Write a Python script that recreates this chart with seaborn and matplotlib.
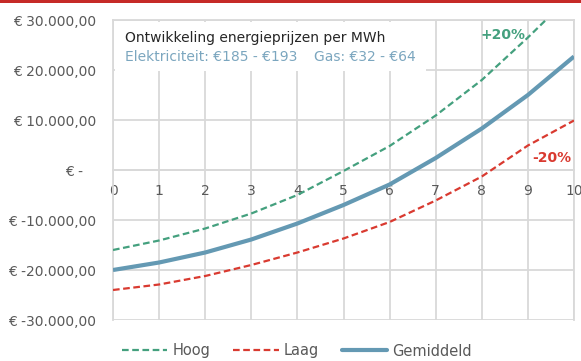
import matplotlib
matplotlib.use("Agg")
import matplotlib.pyplot as plt
import matplotlib.patches as mpatches
from matplotlib.lines import Line2D
import seaborn as sns
import pandas as pd

# Jaren na investering
jaren = list(range(0, 11))

# Cumulatief resultaat (EUR) per scenario
hoog = [-16000, -14100, -11700, -8700, -5000, -200, 4800, 10900, 18000, 26500, 35500]
laag = [-24000, -22900, -21200, -19000, -16500, -13700, -10400, -6100, -1300, 4900, 9900]
gemiddeld = [-20000, -18500, -16500, -13900, -10700, -7000, -2900, 2400, 8300, 15000, 22700]

y_ticks = [-30000, -20000, -10000, 0, 10000, 20000, 30000]
y_labels = ["€ -30.000,00", "€ -20.000,00", "€ -10.000,00", "€ -   ",
            "€ 10.000,00", "€ 20.000,00", "€ 30.000,00"]

titel = "Ontwikkeling energieprijzen per MWh"
sub_elek = "Elektriciteit: €185 - €193"
sub_gas = "Gas: €32 - €64"

df = pd.DataFrame({"jaar": jaren, "Hoog": hoog, "Laag": laag, "Gemiddeld": gemiddeld})

sns.set_theme(style="white")
plt.rcParams["font.family"] = ["DejaVu Sans"]

c_hoog = "#44A07E"
c_laag = "#D93A30"
c_gem = "#6499B3"
c_grid = "#D9D9D9"
c_text = "#595959"

fig = plt.figure(figsize=(5.81, 3.61), dpi=100)
ax = fig.add_axes([113 / 581, 41 / 361, 461 / 581, 300 / 361])

sns.lineplot(data=df, x="jaar", y="Hoog", ax=ax, color=c_hoog, linewidth=1.6,
             zorder=3).lines[-1].set_dashes((3, 1.6))
sns.lineplot(data=df, x="jaar", y="Laag", ax=ax, color=c_laag, linewidth=1.6,
             zorder=3).lines[-1].set_dashes((3, 1.6))
sns.lineplot(data=df, x="jaar", y="Gemiddeld", ax=ax, color=c_gem, linewidth=3.0,
             zorder=4, solid_capstyle="butt")

ax.set_xlim(0, 10)
ax.set_ylim(-30000, 30000)
ax.set_xticks(jaren)
ax.set_xticklabels([str(j) for j in jaren])
ax.set_yticks(y_ticks)
ax.set_yticklabels(y_labels)
ax.set_xlabel("")
ax.set_ylabel("")

ax.set_axisbelow(True)
ax.grid(True, color=c_grid, linewidth=1.3)
for side in ["left", "right", "top"]:
    ax.spines[side].set_color(c_grid)
    ax.spines[side].set_linewidth(1.3)
ax.spines["bottom"].set_position(("data", 0))
ax.spines["bottom"].set_color(c_grid)
ax.spines["bottom"].set_linewidth(1.3)
ax.tick_params(axis="both", length=0, labelcolor=c_text, labelsize=10)
ax.tick_params(axis="x", pad=10)
ax.tick_params(axis="y", pad=12)

# Witte titelkader linksboven
box = mpatches.Rectangle((2 / 461, 249 / 300), 311 / 461, 49 / 300,
                         transform=ax.transAxes, facecolor="white",
                         edgecolor="none", zorder=1.5)
ax.add_patch(box)
ax.text(12 / 461, 282 / 300, titel, transform=ax.transAxes, fontsize=10,
        color="#262626", va="center", ha="left", zorder=5)
ax.text(12 / 461, 263 / 300, sub_elek, transform=ax.transAxes, fontsize=10,
        color="#7BA6BF", va="center", ha="left", zorder=5)
ax.text(201 / 461, 263 / 300, sub_gas, transform=ax.transAxes, fontsize=10,
        color="#7BA6BF", va="center", ha="left", zorder=5)

ax.text(8.46, 27000, "+20%", color=c_hoog, fontsize=10, fontweight="bold",
        ha="center", va="center", zorder=5)
ax.text(9.52, 2400, "-20%", color=c_laag, fontsize=10, fontweight="bold",
        ha="center", va="center", zorder=5)

handles = [
    Line2D([], [], color=c_hoog, linewidth=1.6, dashes=(3, 1.6)),
    Line2D([], [], color=c_laag, linewidth=1.6, dashes=(3, 1.6)),
    Line2D([], [], color=c_gem, linewidth=3.0),
]
leg = fig.legend(handles, ["Hoog", "Laag", "Gemiddeld"], loc="center",
                 bbox_to_anchor=(297 / 581, 1 - 351 / 361), ncol=3, frameon=False,
                 fontsize=10.5, handlelength=3.1, handletextpad=0.35,
                 columnspacing=1.6, labelcolor=c_text)

# Rode balk bovenaan
fig.add_artist(mpatches.Rectangle((0, 1 - 2.5 / 361), 1, 2.5 / 361,
                                  transform=fig.transFigure,
                                  facecolor="#C62A28", edgecolor="none"))

fig.savefig("out.png", dpi=100, facecolor="white")
